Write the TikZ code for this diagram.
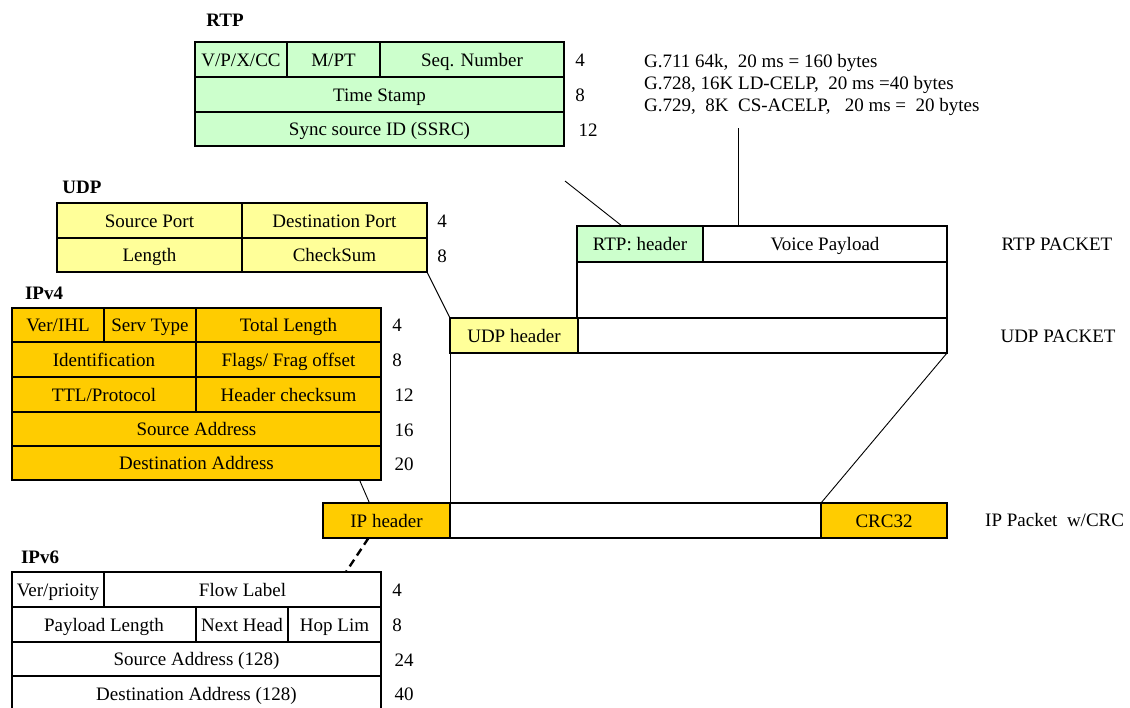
\documentclass[tikz,border=0pt]{standalone}
\usepackage{fontspec}
\setmainfont{Liberation Serif}
\newcommand\fsz{\fontsize{19}{22}\selectfont}
\definecolor{rtpg}{HTML}{CCFFCC}
\definecolor{udpy}{HTML}{FFFF99}
\definecolor{ipo}{HTML}{FFCC00}
\tikzset{
  cell/.style={draw, line width=1.2pt, inner sep=0pt, outer sep=0pt, anchor=north west, font=\fsz, text height=15pt, text depth=2pt},
  num/.style={font=\fsz, inner sep=0pt},
  ttl/.style={font=\fsz\bfseries, inner sep=0pt},
  conn/.style={line width=0.9pt},
  dconn/.style={line width=2.4pt, dash pattern=on 8pt off 5pt},
}
\begin{document}
\begin{tikzpicture}[x=1pt,y=-1pt]
\path[use as bounding box] (0,0) rectangle (1130,707);
\clip (0,0) rectangle (1130,707);
% RTP
\node[ttl] (trtp) at (225,20) {RTP};
\node[cell, fill=rtpg, minimum width=92, minimum height=35] (ra) at (195,42) {V/P/X/CC};
\node[cell, fill=rtpg, minimum width=93, minimum height=35] (rb) at (287,42) {M/PT};
\node[cell, fill=rtpg, minimum width=184, minimum height=35] (rc) at (380,42) {Seq. Number};
\node[cell, fill=rtpg, minimum width=369, minimum height=35] (rd) at (195,77) {Time Stamp};
\node[cell, fill=rtpg, minimum width=369, minimum height=34] (re) at (195,112) {Sync source ID (SSRC)};
\node[num] (rn1) at (580,60) {4};
\node[num] (rn2) at (580,95) {8};
\node[num] (rn3) at (588,130) {12};
% UDP
\node[ttl] (tudp) at (82,187) {UDP};
\node[cell, fill=udpy, minimum width=185, minimum height=35] (ua) at (57,203) {Source Port};
\node[cell, fill=udpy, minimum width=185, minimum height=35] (ub) at (242,203) {Destination Port};
\node[cell, fill=udpy, minimum width=185, minimum height=34] (uc) at (57,238) {Length};
\node[cell, fill=udpy, minimum width=185, minimum height=34] (ud) at (242,238) {CheckSum};
\node[num] (un1) at (442,221) {4};
\node[num] (un2) at (442,256) {8};
% IPv4
\node[ttl] (tip4) at (44,293) {IPv4};
\node[cell, fill=ipo, minimum width=92, minimum height=34] (va) at (12,308) {Ver/IHL};
\node[cell, fill=ipo, minimum width=92, minimum height=34] (vb) at (104,308) {Serv Type};
\node[cell, fill=ipo, minimum width=185, minimum height=34] (vc) at (196,308) {Total Length};
\node[cell, fill=ipo, minimum width=184, minimum height=35] (vd) at (12,342) {Identification};
\node[cell, fill=ipo, minimum width=185, minimum height=35] (ve) at (196,342) {Flags/ Frag offset};
\node[cell, fill=ipo, minimum width=184, minimum height=35] (vf) at (12,377) {TTL/Protocol};
\node[cell, fill=ipo, minimum width=185, minimum height=35] (vg) at (196,377) {Header checksum};
\node[cell, fill=ipo, minimum width=369, minimum height=34] (vh) at (12,412) {Source Address};
\node[cell, fill=ipo, minimum width=369, minimum height=34] (vi) at (12,446) {Destination Address};
\node[num] (vn1) at (397,325) {4};
\node[num] (vn2) at (397,360) {8};
\node[num] (vn3) at (404,395) {12};
\node[num] (vn4) at (404,430) {16};
\node[num] (vn5) at (404,464) {20};
% IPv6
\node[ttl] (tip6) at (40,557) {IPv6};
\node[cell, fill=white, minimum width=92, minimum height=35] (sa) at (12,572) {Ver/prioity};
\node[cell, fill=white, minimum width=277, minimum height=35] (sb) at (104,572) {Flow Label};
\node[cell, fill=white, minimum width=184, minimum height=35] (sc) at (12,607) {Payload Length};
\node[cell, fill=white, minimum width=92, minimum height=35] (sd) at (196,607) {Next Head};
\node[cell, fill=white, minimum width=93, minimum height=35] (se) at (288,607) {Hop Lim};
\node[cell, fill=white, minimum width=369, minimum height=34] (sf) at (12,642) {Source Address (128)};
\node[cell, fill=white, minimum width=369, minimum height=35] (sg) at (12,676) {Destination Address (128)};
\node[num] (sn1) at (397,590) {4};
\node[num] (sn2) at (397,625) {8};
\node[num] (sn3) at (404,660) {24};
\node[num] (sn4) at (404,694) {40};
% codec text
\node[font=\fsz, align=left, anchor=north west, inner sep=0pt] (codec) at (644,54)
  {G.711 64k,\ \ 20 ms = 160 bytes\\G.728, 16K LD-CELP,\ \ 20 ms =40 bytes\\G.729,\ \ 8K\ \ CS-ACELP,\ \ \ 20 ms =\ \ 20 bytes};
% packets
\node[cell, fill=rtpg, minimum width=126, minimum height=36] (rtph) at (577,226) {RTP: header};
\node[cell, fill=white, minimum width=244, minimum height=36] (voice) at (703,226) {Voice Payload};
\node[cell, fill=white, minimum width=370, minimum height=56] (mid) at (577,262) {};
\node[cell, fill=udpy, minimum width=128, minimum height=35] (udph) at (450,318) {UDP header};
\node[cell, fill=white, minimum width=369, minimum height=35] (udpp) at (578,318) {};
\node[cell, fill=ipo, minimum width=127, minimum height=35] (iph) at (323,503) {IP header};
\node[cell, fill=white, minimum width=371, minimum height=35] (ipp) at (450,503) {};
\node[cell, fill=ipo, minimum width=126, minimum height=35] (crc) at (821,503) {CRC32};
\node[num] (lrtp) at (1057,244) {RTP PACKET};
\node[num] (ludp) at (1058,336) {UDP PACKET};
\node[num, anchor=west] (lip) at (985,520) {IP Packet\ \ w/CRC};
% connectors
\coordinate (rtpl) at (565,181);
\coordinate (codl) at (738,128);
\draw[conn] (rtpl) -- ([xshift=-18pt]rtph.north);
\draw[conn] (codl) -- ([xshift=-87pt]voice.north);
\draw[conn] (ud.south east) -- (udph.north west);
\draw[conn] (udph.south west) -- (ipp.north west);
\draw[conn] (udpp.south east) -- (crc.north west);
\draw[conn] ([xshift=163pt]vi.south) -- ([xshift=-17pt]iph.north);
\draw[dconn] ([xshift=-18pt]iph.south) -- ([xshift=-35pt]sb.north east);
\end{tikzpicture}
\end{document}
